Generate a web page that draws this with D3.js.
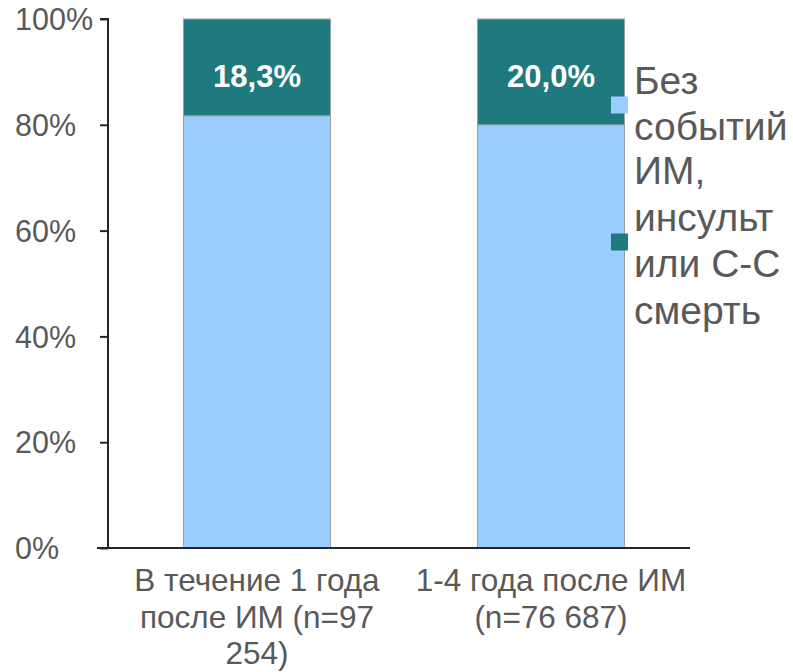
<!DOCTYPE html>
<html>
<head>
<meta charset="utf-8">
<script src="https://cdn.jsdelivr.net/npm/d3@7"></script>
<style>
  html, body { margin: 0; padding: 0; background: #fff; }
  svg { display: block; font-family: "Liberation Sans", Arial, sans-serif; }
</style>
</head>
<body>
<svg id="chart" width="793" height="672"></svg>
<script>
// ---- data ----
const categories = ["В течение 1 года\nпосле ИМ (n=97\n254)", "1-4 года после ИМ\n(n=76 687)"];
const seriesNames = ["Без событий", "ИМ, инсульт или С-С смерть"];
const legendLines = [["Без", "событий"], ["ИМ,", "инсульт", "или С-С", "смерть"]];
const noEvents = [81.7, 80.0];
const events = [18.3, 20.0];
const eventLabels = ["18,3%", "20,0%"];
const yTicks = [0, 20, 40, 60, 80, 100];
const colors = ["#99CCFF", "#1F7A80"];

// ---- layout ----
const svg = d3.select("#chart");
const plot = { left: 108, right: 690, top: 19, bottom: 548 };

const rows = categories.map((c, i) => ({ cat: c, s0: noEvents[i], s1: events[i] }));
const stack = d3.stack().keys(["s0", "s1"]);
const stacked = stack(rows);

const x = d3.scaleBand().domain(categories).range([110, 698]).paddingInner(0.5).paddingOuter(0.25);
const y = d3.scaleLinear().domain([0, 100]).range([plot.bottom, plot.top]);

// bars
svg.append("g").selectAll("g").data(stacked).join("g")
  .attr("fill", (d, i) => colors[i])
  .selectAll("rect").data(d => d).join("rect")
  .attr("x", d => x(d.data.cat))
  .attr("width", x.bandwidth())
  .attr("y", d => y(d[1]))
  .attr("height", d => y(d[0]) - y(d[1]))
  .attr("stroke", "#A0A0A0")
  .attr("stroke-width", 1);

// value labels
svg.append("g").selectAll("text").data(rows).join("text")
  .attr("x", d => x(d.cat) + x.bandwidth() / 2)
  .attr("y", y(100) + 68)
  .attr("text-anchor", "middle")
  .attr("fill", "#fff")
  .attr("font-weight", "bold")
  .attr("font-size", 31)
  .text((d, i) => eventLabels[i]);

// y axis
const yAxis = d3.axisLeft(y).tickValues(yTicks).tickSize(8).tickFormat(d => d + "%");
const gy = svg.append("g").attr("transform", `translate(${plot.left},0)`).call(yAxis);
gy.select(".domain").attr("stroke", "#262626").attr("stroke-width", 2).attr("d", `M-8,${plot.top}H0V${plot.bottom}`);
gy.selectAll(".tick line").attr("stroke", "#262626").attr("stroke-width", 2);
gy.selectAll(".tick text")
  .attr("x", 15 - plot.left)
  .attr("text-anchor", "start")
  .attr("font-size", 30.5)
  .attr("font-family", "Liberation Sans, Arial, sans-serif")
  .attr("fill", "#595959")
  .attr("dy", "0.35em");

// x axis baseline
svg.append("line")
  .attr("x1", 97).attr("x2", plot.right)
  .attr("y1", plot.bottom).attr("y2", plot.bottom)
  .attr("stroke", "#262626").attr("stroke-width", 2);

// x labels
const xl = svg.append("g").selectAll("text").data(categories).join("text")
  .attr("x", d => x(d) + x.bandwidth() / 2)
  .attr("y", 591)
  .attr("text-anchor", "middle")
  .attr("font-size", 31.5)
  .attr("fill", "#595959");
xl.each(function(d) {
  const t = d3.select(this);
  d.split("\n").forEach((line, i) => {
    t.append("tspan").attr("x", t.attr("x")).attr("dy", i === 0 ? 0 : 36.5).text(line);
  });
});

// legend
const legendY = [105, 242];
const lg = svg.append("g").selectAll("g").data(seriesNames).join("g");
lg.append("rect")
  .attr("x", 611).attr("y", (d, i) => legendY[i] - 8.5)
  .attr("width", 17).attr("height", 17)
  .attr("fill", (d, i) => colors[i]);
lg.append("text")
  .attr("font-size", 39)
  .attr("fill", "#595959")
  .each(function(d, i) {
    const t = d3.select(this);
    const lines = legendLines[i];
    const lh = 46.5;
    const startY = legendY[i] - (lines.length - 1) * lh / 2 + 12;
    lines.forEach((line, j) => {
      t.append("tspan").attr("x", 634).attr("y", startY + j * lh).text(line);
    });
  });
</script>
</body>
</html>
